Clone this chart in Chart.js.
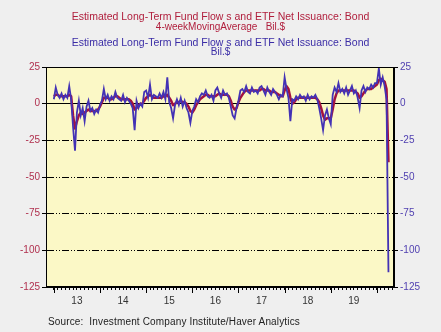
<!DOCTYPE html>
<html>
<head>
<meta charset="utf-8">
<script src="https://cdn.jsdelivr.net/npm/chart.js@4.4.1/dist/chart.umd.min.js"></script>
<style>
  body { margin: 0; background: #efefef; }
  #wrap { position: relative; width: 441px; height: 332px; font-family: Arial, "Liberation Sans", sans-serif; }
  #wrap canvas { position: absolute; left: 0; top: 0; }
  .t { position: absolute; left: 0; width: 441px; text-align: center; white-space: pre; line-height: 1; }
  .red { color: #b01e3c; }
  .blue { color: #3b2da6; }
  #t1 { top: 11px; font-size: 10.5px; }
  #t2 { top: 22px; font-size: 10px; }
  #t3 { top: 37px; font-size: 10.5px; }
  #t4 { top: 47px; font-size: 10px; }
  #src { position: absolute; left: 48px; top: 317px; font-size: 10px; color: #222; letter-spacing: 0.15px; white-space: pre; line-height: 1; }
</style>
</head>
<body>
<div id="wrap">
  <canvas id="flowsChart" width="441" height="332"></canvas>
  <div class="t red" id="t1">Estimated Long-Term Fund Flow s and ETF Net Issuance: Bond</div>
  <div class="t red" id="t2">4-weekMovingAverage   Bil.$</div>
  <div class="t blue" id="t3">Estimated Long-Term Fund Flow s and ETF Net Issuance: Bond</div>
  <div class="t blue" id="t4">Bil.$</div>
  <div id="src">Source:  Investment Company Institute/Haver Analytics</div>
</div>
<script>
// half-monthly readings, Bil.$ (weekly net flows and their 4-week moving average)
const flows2013 = [3, 11, 6, 4, 7, 3, 6, 4, 12, 3, -16, -32, -6, 2, -8, -3, -12, -2, 2, -5, -3, -7, -4, -6];
const flows2014 = [-1, 2, 10, 3, 6, 2, 5, 3, 8, 4, 3, 2, 6, 1, 4, 2, 0, -3, -18, 2, -3, 0, -2, 8];
const flows2015 = [9, 4, 13, 3, 6, 5, 4, 7, 4, 8, 3, 18, 1, -3, -10, -1, 3, -1, 4, -2, 2, -3, -6, -13];
const flows2016 = [-5, -2, 3, 1, 5, 7, 6, 9, 5, 4, 6, 2, 9, 11, 7, 4, 9, 6, 7, 4, -2, -8, -10, -3];
const flows2017 = [2, 9, 10, 8, 12, 8, 7, 11, 8, 9, 7, 11, 12, 9, 6, 11, 8, 6, 10, 8, 6, 3, 6, 5];
const flows2018 = [18, 10, 4, -12, 3, 2, 5, 3, 6, 4, 5, 2, 6, 3, 5, 4, 6, 3, -3, -10, -18, -8, -4, -10];
const flows2019 = [-14, 6, 11, 8, 14, 8, 10, 7, 11, 6, 9, 12, 7, 9, 4, -3, 9, 12, 8, 11, 10, 13, 11, 14];
const flows2020 = [14, 24, 13, 18, 12, 3, -115];

const ma2013 = [5, 6, 6, 5, 5, 5, 5, 5, 6, 5, -8, -17, -12, -8, -6, -7, -6, -5, -4, -5, -5, -5, -5, -4];
const ma2014 = [-2, 1, 4, 4, 4, 3, 3, 4, 5, 5, 4, 3, 3, 3, 3, 3, 2, 0, -4, -3, -1, 0, 0, 2];
const ma2015 = [4, 5, 6, 5, 4, 4, 4, 4, 4, 5, 5, 6, 4, 2, -1, 0, 1, 1, 2, 1, 1, 0, -2, -5];
const ma2016 = [-6, -4, -1, 1, 3, 4, 5, 6, 6, 5, 5, 5, 5, 6, 7, 6, 6, 6, 6, 5, 2, -2, -4, -3];
const ma2017 = [1, 4, 6, 8, 9, 9, 9, 9, 9, 9, 9, 9, 10, 10, 9, 9, 9, 8, 8, 8, 7, 6, 5, 5];
const ma2018 = [9, 12, 10, 4, 0, 1, 3, 4, 4, 4, 4, 4, 4, 4, 4, 4, 4, 3, 1, -3, -8, -11, -10, -10];
const ma2019 = [-10, -4, 3, 7, 9, 9, 9, 9, 9, 9, 9, 9, 9, 8, 7, 4, 5, 7, 9, 10, 10, 10, 11, 12];
const ma2020 = [13, 16, 17, 16, 15, 10, -40];

const years = [2013, 2014, 2015, 2016, 2017, 2018, 2019, 2020];
const yTicks = [25, 0, -25, -50, -75, -100, -125];

const flows = [].concat(flows2013, flows2014, flows2015, flows2016, flows2017, flows2018, flows2019, flows2020);
const movingAvg = [].concat(ma2013, ma2014, ma2015, ma2016, ma2017, ma2018, ma2019, ma2020);

// two points per month starting Jan 2013
const toPoints = arr => arr.map((v, i) => ({ x: 2013 + i / 24, y: v }));

const plotBg = {
    id: 'plotBg',
    beforeDraw(chart) {
        const { ctx, chartArea: a } = chart;
        ctx.save();
        ctx.fillStyle = '#fbf8c6';
        ctx.fillRect(a.left, a.top, a.right - a.left, a.bottom - a.top);
        ctx.restore();
    },
    afterDraw(chart) {
        const { ctx, chartArea: a } = chart;
        const xs = chart.scales.x;
        ctx.save();
        ctx.strokeStyle = '#000';
        ctx.lineWidth = 1;
        ctx.strokeRect(Math.round(a.left) + 0.5, Math.round(a.top) + 0.5, Math.round(a.right - a.left) - 1, Math.round(a.bottom - a.top) - 1);
        // longer ticks at year boundaries
        ctx.beginPath();
        years.forEach(yr => {
            const px = Math.round(xs.getPixelForValue(yr)) + 0.5;
            ctx.moveTo(px, a.bottom);
            ctx.lineTo(px, a.bottom + 6);
        });
        ctx.stroke();
        ctx.restore();
    }
};

const flowsChart = new Chart(document.getElementById('flowsChart'), {
    type: 'line',
    data: {
        datasets: [{
            label: 'Bil.$',
            data: toPoints(flows),
            yAxisID: 'y2',
            borderColor: '#4332b5',
            borderWidth: 1.8,
            pointRadius: 0,
            tension: 0
        }, {
            label: '4-week Moving Average',
            data: toPoints(movingAvg),
            yAxisID: 'y',
            borderColor: '#a3123f',
            borderWidth: 2.5,
            pointRadius: 0,
            tension: 0,
            borderJoinStyle: 'round'
        }]
    },
    options: {
        responsive: false,
        animation: false,
        layout: { padding: { top: 67, left: 0, right: 0, bottom: 0 } },
        plugins: { legend: { display: false }, tooltip: { enabled: false } },
        scales: {
            x: {
                type: 'linear',
                min: 2012.83,
                max: 2020.37,
                afterBuildTicks(scale) {
                    const ticks = [];
                    for (let m = 0; m <= 7 * 12 + 4; m++) ticks.push({ value: 2013 + m / 12 });
                    scale.ticks = ticks;
                },
                afterFit(scale) { scale.height = 45; },
                grid: { drawOnChartArea: false, tickLength: 3, tickColor: '#000' },
                border: { color: '#000' },
                ticks: {
                    autoSkip: false,
                    maxRotation: 0,
                    padding: 5,
                    color: '#333',
                    font: { family: 'Arial', size: 10 },
                    callback(v) {
                        const frac = v - Math.floor(v);
                        return Math.abs(frac - 0.5) < 1e-6 ? String(Math.floor(v)).slice(2) : '';
                    }
                }
            },
            y: {
                position: 'left',
                min: -125,
                max: 25,
                afterBuildTicks(scale) { scale.ticks = yTicks.map(v => ({ value: v })); },
                afterFit(scale) { scale.width = 46; },
                grid: {
                    color: ctx => (ctx.tick && ctx.tick.value === 0) ? 'transparent' : '#000',
                    tickLength: 4,
                    tickColor: '#000'
                },
                border: { color: '#000', dash: [7, 2, 1, 2, 1, 2] },
                ticks: { color: '#b0304e', padding: 2, font: { family: 'Arial', size: 10 } }
            },
            y2: {
                position: 'right',
                min: -125,
                max: 25,
                afterBuildTicks(scale) { scale.ticks = yTicks.map(v => ({ value: v })); },
                afterFit(scale) { scale.width = 47; },
                grid: {
                    color: ctx => (ctx.tick && ctx.tick.value === 0) ? '#000' : 'transparent',
                    tickLength: 4,
                    tickColor: '#000'
                },
                border: { color: '#000' },
                ticks: { color: '#4f3fb0', padding: 2, font: { family: 'Arial', size: 10 } }
            }
        }
    },
    plugins: [plotBg]
});
</script>
</body>
</html>
